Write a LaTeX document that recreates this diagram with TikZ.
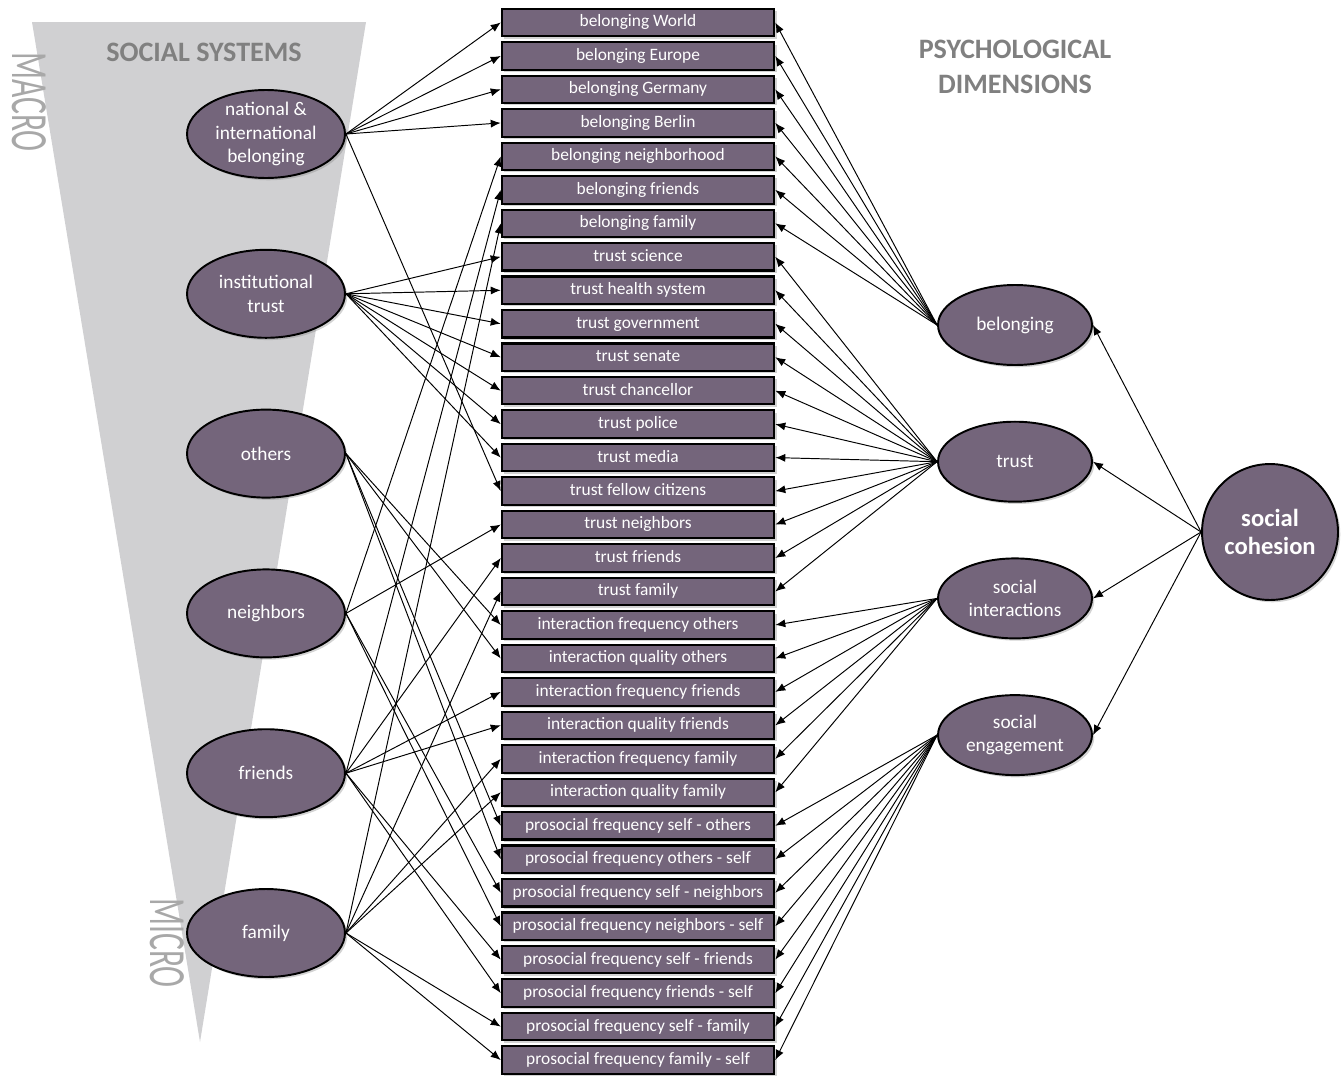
\documentclass[tikz,border=0pt]{standalone}
\usepackage{fontspec}
\setmainfont{Carlito}
\usetikzlibrary{arrows.meta,shapes.geometric,shadows}

\definecolor{nodefill}{RGB}{116,101,123}
\definecolor{wedgegray}{RGB}{208,208,210}
\definecolor{headgray}{RGB}{128,128,128}
\definecolor{levelgray}{RGB}{168,168,168}

\tikzset{
  softshadow/.style={drop shadow={shadow xshift=1.3pt,shadow yshift=-1.3pt,opacity=0.35}},
  indicator/.style={draw,line width=1.2pt,fill=nodefill,text=white,softshadow,
    minimum width=5.45cm,minimum height=0.55cm,inner sep=0pt,
    text height=7pt,text depth=2pt,
    font=\fontsize{9.9}{11}\selectfont},
  sys/.style={ellipse,draw,line width=1.1pt,fill=nodefill,text=white,softshadow,
    minimum width=3.16cm,minimum height=1.76cm,inner sep=-3pt,align=center,
    font=\fontsize{11}{13.3}\selectfont},
  dim/.style={sys,minimum width=3.08cm,minimum height=1.6cm},
  whole/.style={circle,draw,line width=1.1pt,fill=nodefill,text=white,softshadow,
    minimum size=2.72cm,inner sep=0pt,align=center,
    font=\fontsize{14}{16.4}\selectfont\bfseries},
  heading/.style={text=headgray,align=center,font=\fontsize{16}{19.8}\selectfont\bfseries},
  scalelabel/.style={text=levelgray,rotate=-90,inner sep=0pt,font=\fontsize{18}{20}\selectfont},
}

\begin{document}
\begin{tikzpicture}[x=0.02cm,y=-0.02cm,>={Latex[length=5.7pt,width=4.6pt]},line width=0.55pt]
\useasboundingbox (0,0) rectangle (1344,1075);

% macro -> micro wedge
\fill[wedgegray] (32,22) -- (366,22) -- (200,1042) -- cycle;
\node[heading] (sshead) at (204,52) {SOCIAL SYSTEMS};
\node[heading] (pdhead) at (1015,67) {PSYCHOLOGICAL\\DIMENSIONS};
\node[scalelabel] (macro) at (29,102) {\scalebox{1}[1.65]{MACRO}};
\node[scalelabel] (micro) at (167,943) {\scalebox{1}[1.65]{MICRO}};

% indicators
\foreach \txt [count=\i] in {belonging World,belonging Europe,belonging Germany,belonging Berlin,
  belonging neighborhood,belonging friends,belonging family,trust science,trust health system,
  trust government,trust senate,trust chancellor,trust police,trust media,trust fellow citizens,
  trust neighbors,trust friends,trust family,interaction frequency others,interaction quality others,
  interaction frequency friends,interaction quality friends,interaction frequency family,
  interaction quality family,prosocial frequency self - others,prosocial frequency others - self,
  prosocial frequency self - neighbors,prosocial frequency neighbors - self,
  prosocial frequency self - friends,prosocial frequency friends - self,
  prosocial frequency self - family,prosocial frequency family - self}
  \node[indicator] (m\i) at (638,{22.5+(\i-1)*33.47}) {\txt};

% social systems
\foreach \txt [count=\i] in {{national \&\\international\\belonging},{institutional\\trust},others,neighbors,friends,family}
  \node[sys] (s\i) at (266,{134+(\i-1)*159.8}) {\txt};

% psychological dimensions
\foreach \txt [count=\i] in {belonging,trust,{social\\interactions},{social\\engagement}}
  \node[dim] (p\i) at (1015,{325+(\i-1)*136.7}) {\txt};
\node[whole] (coh) at (1270,532) {social\\cohesion};

\foreach \s/\targets in {1/{1,2,3,4,15},2/{8,9,10,11,12,13,14},3/{19,20,25,26},4/{5,16,27,28},5/{6,17,21,22,29,30},6/{7,18,23,24,31,32}}
  \foreach \m in \targets
    \draw[->] (s\s.east) -- (m\m.west);
\foreach \p/\first/\last in {1/1/7,2/8/18,3/19/24,4/25/32}
  \foreach \m in {\first,...,\last}
    \draw[->] (p\p.west) -- (m\m.east);
\foreach \p in {1,...,4}
  \draw[->] (coh.west) -- (p\p.east);
\end{tikzpicture}
\end{document}
